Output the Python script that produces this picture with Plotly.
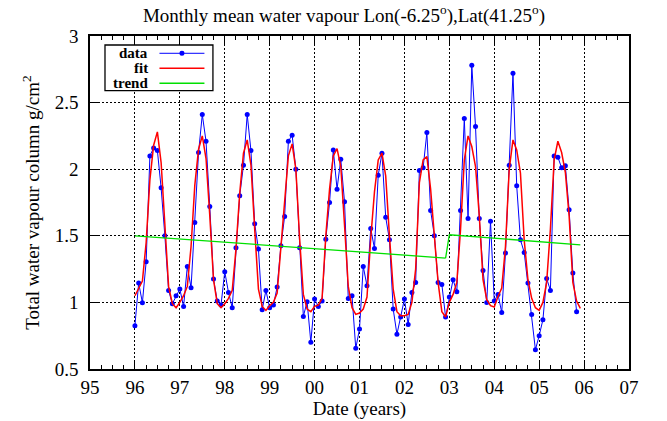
import plotly.graph_objects as go

# ---------------- data ----------------
start_year = 1996
# monthly mean total water vapour column (g/cm^2), Jan 1996 .. Nov 2005
data_1996 = [0.825, 1.145, 0.998, 1.305, 2.10, 2.16, 2.14, 1.86, 1.50, 1.09, 0.99, 1.05]
data_1997 = [1.10, 0.97, 1.27, 1.11, 1.60, 2.125, 2.41, 2.21, 1.72, 1.175, 1.01, 0.98]
data_1998 = [1.23, 1.075, 0.96, 1.41, 1.80, 2.03, 2.41, 2.14, 1.59, 1.40, 0.945, 1.09]
data_1999 = [0.96, 0.98, 1.115, 1.425, 1.645, 2.21, 2.255, 2.00, 1.41, 0.895, 1.005, 0.70]
data_2000 = [1.025, 0.97, 1.01, 1.475, 1.75, 2.145, 1.85, 2.075, 1.755, 1.03, 1.05, 0.655]
data_2001 = [0.80, 1.27, 1.125, 1.555, 1.405, 1.955, 2.12, 1.64, 1.47, 0.95, 0.76, 0.89]
data_2002 = [1.025, 0.835, 1.075, 1.15, 1.99, 2.01, 2.275, 1.69, 1.50, 1.15, 1.135, 0.89]
data_2003 = [1.04, 1.17, 1.08, 1.69, 2.38, 1.63, 2.78, 2.32, 1.63, 1.24, 1.00, 1.61]
data_2004 = [1.01, 1.06, 0.925, 1.37, 2.03, 2.72, 1.875, 1.47, 1.375, 1.145, 0.91, 0.645]
data_2005 = [0.75, 0.87, 1.18, 1.09, 2.10, 2.09, 2.01, 2.025, 1.695, 1.22, 0.93]

# fitted curve, Jan 1996 .. Dec 2005
fit_1996 = [1.05, 1.11, 1.16, 1.45, 1.92, 2.18, 2.28, 2.05, 1.55, 1.12, 0.99, 0.96]
fit_1997 = [1.00, 1.05, 1.12, 1.42, 1.88, 2.15, 2.25, 2.08, 1.65, 1.17, 0.99, 0.96]
fit_1998 = [0.99, 1.03, 1.09, 1.40, 1.82, 2.12, 2.22, 2.03, 1.55, 1.10, 0.97, 0.94]
fit_1999 = [0.975, 1.00, 1.07, 1.40, 1.78, 2.10, 2.19, 2.00, 1.48, 1.06, 0.95, 0.93]
fit_2000 = [0.97, 0.98, 1.03, 1.50, 1.85, 2.10, 2.155, 2.02, 1.58, 1.12, 0.96, 0.91]
fit_2001 = [0.92, 0.95, 1.04, 1.48, 1.83, 2.07, 2.12, 1.95, 1.50, 1.10, 0.93, 0.90]
fit_2002 = [0.90, 0.91, 1.00, 1.25, 1.90, 2.07, 2.095, 1.85, 1.50, 1.15, 0.93, 0.89]
fit_2003 = [1.00, 1.06, 1.15, 1.55, 2.07, 2.25, 2.17, 2.02, 1.65, 1.17, 1.02, 0.975]
fit_2004 = [0.965, 1.045, 1.107, 1.42, 2.00, 2.22, 2.145, 1.97, 1.47, 1.17, 1.03, 0.96]
fit_2005 = [0.94, 1.00, 1.15, 1.55, 2.07, 2.21, 2.125, 1.975, 1.65, 1.15, 1.01, 0.955]

# trend (piecewise linear, break at 2003)
trend_x = [1996.0, 2002.917, None, 2002.917, 2003.0, 2005.917]
trend_y = [1.50, 1.333, None, 1.333, 1.508, 1.432]

tick_years = list(range(1995, 2008))
tick_labels = ["95", "96", "97", "98", "99", "00", "01", "02", "03", "04", "05", "06", "07"]
ytick_vals = [0.5, 1, 1.5, 2, 2.5, 3]
ytick_labels = ["0.5", "1", "1.5", "2", "2.5", "3"]

data_vals = (data_1996 + data_1997 + data_1998 + data_1999 + data_2000 +
             data_2001 + data_2002 + data_2003 + data_2004 + data_2005)
fit_vals = (fit_1996 + fit_1997 + fit_1998 + fit_1999 + fit_2000 +
            fit_2001 + fit_2002 + fit_2003 + fit_2004 + fit_2005)
data_x = [start_year + i / 12 for i in range(len(data_vals))]
fit_x = [start_year + i / 12 for i in range(len(fit_vals))]

SERIF = "Liberation Serif, Times New Roman, serif"
BLUE = "#0000ff"
RED = "#ff0000"
GREEN = "#00e000"

fig = go.Figure()
fig.add_trace(go.Scatter(x=data_x, y=data_vals, mode="lines+markers", name="data",
                         line=dict(color=BLUE, width=1),
                         marker=dict(color=BLUE, size=5), showlegend=False))
fig.add_trace(go.Scatter(x=fit_x, y=fit_vals, mode="lines", name="fit",
                         line=dict(color=RED, width=1.5), showlegend=False))
fig.add_trace(go.Scatter(x=trend_x, y=trend_y, mode="lines", name="trend",
                         line=dict(color=GREEN, width=1.3), showlegend=False,
                         connectgaps=False))

axis_common = dict(showline=True, linecolor="black", linewidth=1.5, mirror="ticks",
                   ticks="inside", tickcolor="black", ticklen=9, tickwidth=1,
                   showgrid=True, gridcolor="black", gridwidth=1, griddash="2px,2px",
                   zeroline=False, automargin=False,
                   tickfont=dict(family=SERIF, size=19, color="black"))

fig.update_xaxes(range=[1995, 2007], tickmode="array", tickvals=tick_years, ticktext=tick_labels,
                 title=dict(text="Date (years)", font=dict(family=SERIF, size=19, color="black"), standoff=4),
                 minor=dict(tickmode="linear", tick0=1995, dtick=0.25, ticks="inside", ticklen=4.5,
                            tickcolor="black", showgrid=False),
                 **axis_common)
fig.update_yaxes(range=[0.5, 3], tickmode="array", tickvals=ytick_vals, ticktext=ytick_labels,
                 title=dict(text="Total water vapour column g/cm<sup>2</sup>",
                            font=dict(family=SERIF, size=19, color="black"), standoff=10),
                 ticklabelstandoff=6,
                 **axis_common)

# manual gnuplot-style legend (text right-aligned, sample on the right)
W, H = 539.3, 333.3
def px(x):
    return (x - 90) / W
def py(y):
    return (369.3 - y) / H

shapes = [dict(type="rect", xref="paper", yref="paper", x0=px(105), x1=px(213), y0=py(90.7), y1=py(45),
               line=dict(color="black", width=1.3), fillcolor="white", layer="above")]
legend_rows = [("data", BLUE, 53.3, 1.0), ("fit", RED, 68.3, 1.5), ("trend", GREEN, 83.3, 1.3)]
annotations = []
for name, col, yy, lw in legend_rows:
    shapes.append(dict(type="line", xref="paper", yref="paper", x0=px(159.5), x1=px(204.5),
                       y0=py(yy), y1=py(yy), line=dict(color=col, width=lw), layer="above"))
    annotations.append(dict(text="<b>%s</b>" % name, xref="paper", yref="paper", x=px(150.5), y=py(yy),
                            xanchor="right", yanchor="middle", showarrow=False,
                            font=dict(family=SERIF, size=15, color="black")))
shapes.append(dict(type="circle", xref="paper", yref="paper", x0=px(179.5), x1=px(184.5),
                   y0=py(55.8), y1=py(50.8), fillcolor=BLUE, line=dict(color=BLUE, width=0), layer="above"))

fig.update_layout(
    width=667, height=421,
    margin=dict(l=90, r=38, t=36, b=52),
    paper_bgcolor="white", plot_bgcolor="white",
    title=dict(text="Monthly mean water vapour Lon(-6.25<sup>o</sup>),Lat(41.25<sup>o</sup>)",
               font=dict(family=SERIF, size=19, color="black"),
               x=344 / 667, xref="container", xanchor="center",
               y=1 - 15 / 421, yref="container", yanchor="middle"),
    shapes=shapes, annotations=annotations,
    showlegend=False,
)

fig.write_html("out.html")
